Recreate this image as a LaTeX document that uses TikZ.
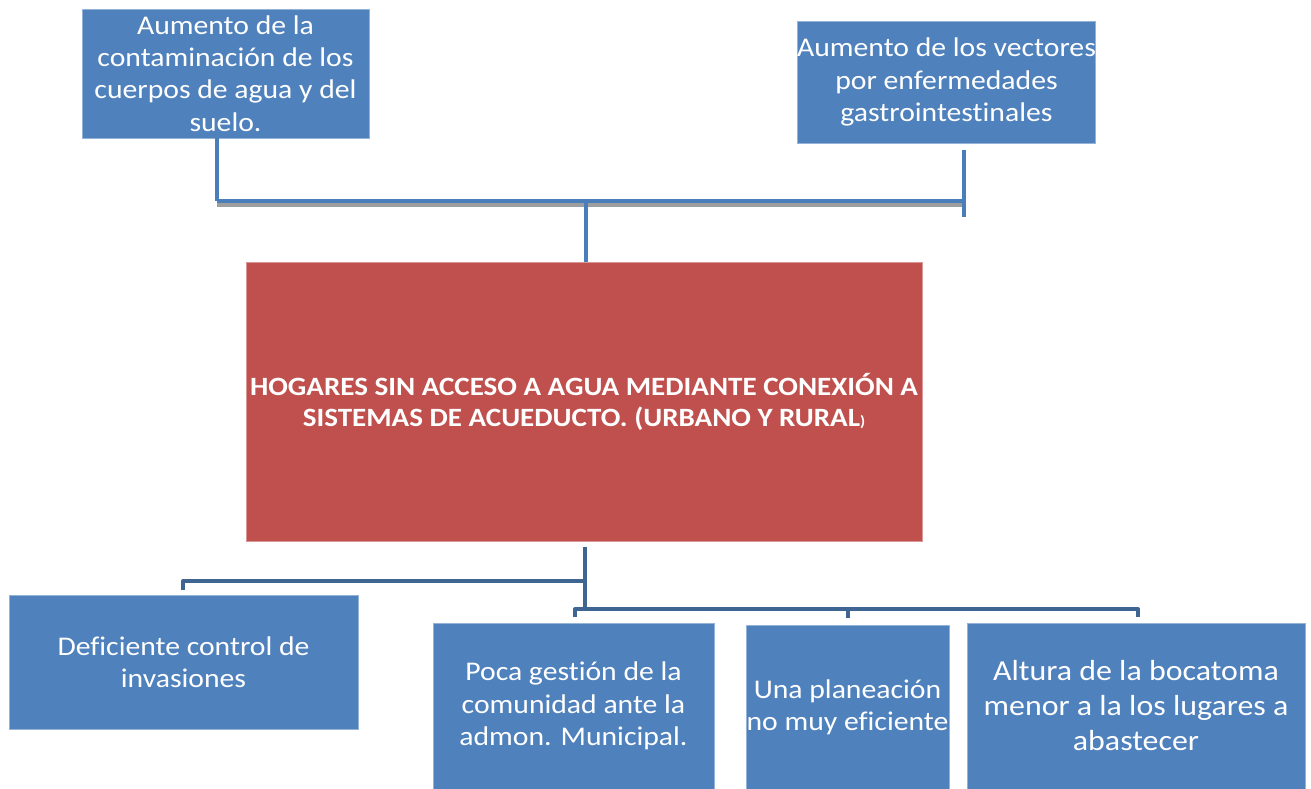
\documentclass[tikz,border=0pt]{standalone}
\usepackage{fontspec}
\setmainfont[FakeStretch=1.1,Ligatures=NoCommon]{Carlito}
\definecolor{boxblue}{HTML}{4F81BD}
\definecolor{boxred}{HTML}{C0504D}
\definecolor{lineblue}{HTML}{4A7EBB}
\definecolor{darkline}{HTML}{3F6593}
\begin{document}
\begin{tikzpicture}[x=1pt,y=-1pt,
  bbox/.style={fill=boxblue, draw=boxblue!60!white, line width=0.8pt, text=white, align=center, inner sep=0pt, font=\fontsize{27}{32.3}\selectfont},
  rbox/.style={fill=boxred, draw=boxred!60!white, line width=0.8pt, text=white, align=center, inner sep=0pt, font=\fontsize{26.4}{31}\selectfont\bfseries},
  conn/.style={draw=lineblue, line width=4.5pt},
  shadowline/.style={draw=black!38, line width=4pt},
  dconn/.style={draw=darkline, line width=4pt, line join=round}]
\useasboundingbox (0,0) rectangle (1311,789);

% top effect boxes
\node[bbox, minimum width=287, minimum height=129] (a) at (225.5,73.5)
  {Aumento de la\\contaminación de los\\cuerpos de agua y del\\suelo.};
\node[bbox, minimum width=297, minimum height=122] (b) at (946.5,82)
  {Aumento de los vectores\\por enfermedades\\gastrointestinales};

% central problem
\node[rbox, minimum width=676, minimum height=279] (r) at (584,401.5)
  {HOGARES SIN ACCESO A AGUA MEDIANTE CONEXIÓN A\\SISTEMAS DE ACUEDUCTO. (URBANO Y RURAL{\fontsize{15}{15}\selectfont)}};

% bottom cause boxes
\node[bbox, minimum width=349, minimum height=134] (d1) at (183.5,662)
  {Deficiente control de\\invasiones};
\node[bbox, minimum width=281, minimum height=166] (d2) at (573.5,706)
  {Poca gestión de la\\comunidad ante la\\admon. Municipal.};
\node[bbox, minimum width=203, minimum height=164] (d3) at (847.5,707)
  {Una planeación\\no muy eficiente};
\node[bbox, minimum width=338, minimum height=166, font=\fontsize{29}{35}\selectfont] (d4) at (1136,706)
  {Altura de la bocatoma\\menor a la los lugares a\\abastecer};

% top connector coordinates
\coordinate (tl) at (217,201);
\coordinate (tc) at (586,201);
\coordinate (tr) at (964,201);
\coordinate (rtop) at (964,150);
\coordinate (rbot) at (964,217);

% shadow of the top bar
\draw[shadowline] ([yshift=-4pt]tl) -- ([yshift=-4pt]tr);
\draw[conn] (a.south -| tl) -- (tl);
\draw[conn] (tl) -- (tr);
\draw[conn] (rtop) -- (rbot);
\draw[conn, line width=4pt] (tc) -- (tc |- r.north);

% bottom connector coordinates
\coordinate (bv) at (585,547);
\coordinate (bc) at (585,581);
\coordinate (bm) at (585,609);
\coordinate (bl) at (183,581);
\coordinate (bl1) at (183,590);
\coordinate (b1) at (575,609);
\coordinate (b1d) at (575,617);
\coordinate (b2) at (848,609);
\coordinate (b2d) at (848,618);
\coordinate (b3) at (1138,609);
\coordinate (b3d) at (1138,617);

\draw[dconn] (bv) -- (bm);
\draw[dconn] (bl1) -- (bl) -- (bc);
\draw[dconn] (b1d) -- (b1) -- (b3) -- (b3d);
\draw[dconn] (b2) -- (b2d);
\end{tikzpicture}
\end{document}
